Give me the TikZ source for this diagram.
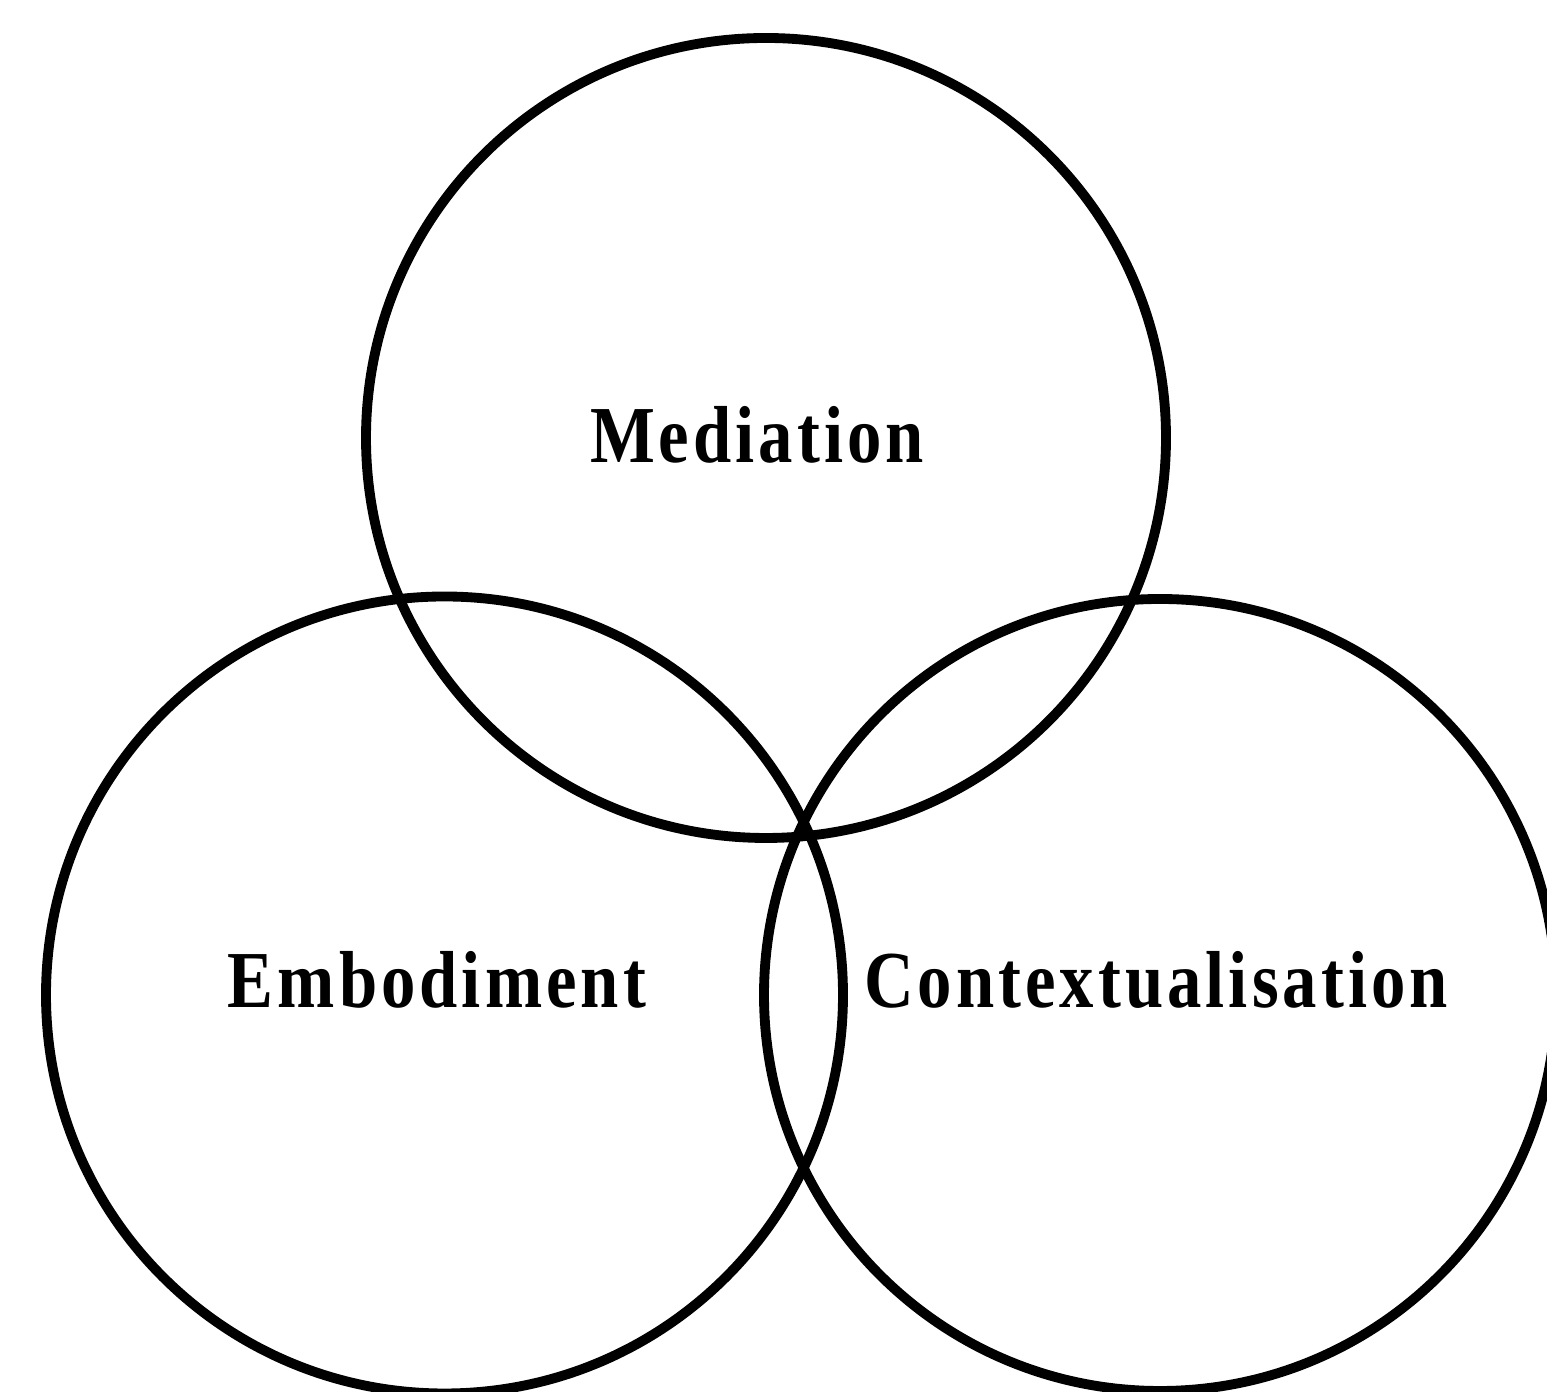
\documentclass[tikz,border=0pt]{standalone}
\usepackage{fontspec}
\setmainfont{Liberation Serif}
\usetikzlibrary{positioning}

\tikzset{
  venn/.style={circle, draw=black, line width=2.8pt, inner sep=0pt},
  venntext/.style={anchor=base, font=\bfseries\fontsize{23}{27}\selectfont\addfontfeatures{FakeStretch=0.85, LetterSpace=5}}
}

\begin{document}
\begin{tikzpicture}
\useasboundingbox (0,0) rectangle (15.47,13.92);

% the three overlapping circles
\node[venn, minimum size=8cm] (mediation) at (7.66,9.54) {};
\node[venn, minimum size=7.97cm] (embodiment) at (4.445,3.97) {};
\node[venn, minimum size=7.92cm] (context) at (11.60,3.97) {};

% labels inside each circle
\node[venntext] (medlabel) at (7.57,9.29) {Mediation};
\node[venntext] (emblabel) at (4.37,3.84) {Embodiment};
\node[venntext] (conlabel) at (11.56,3.84) {Contextualisation};
\end{tikzpicture}
\end{document}
